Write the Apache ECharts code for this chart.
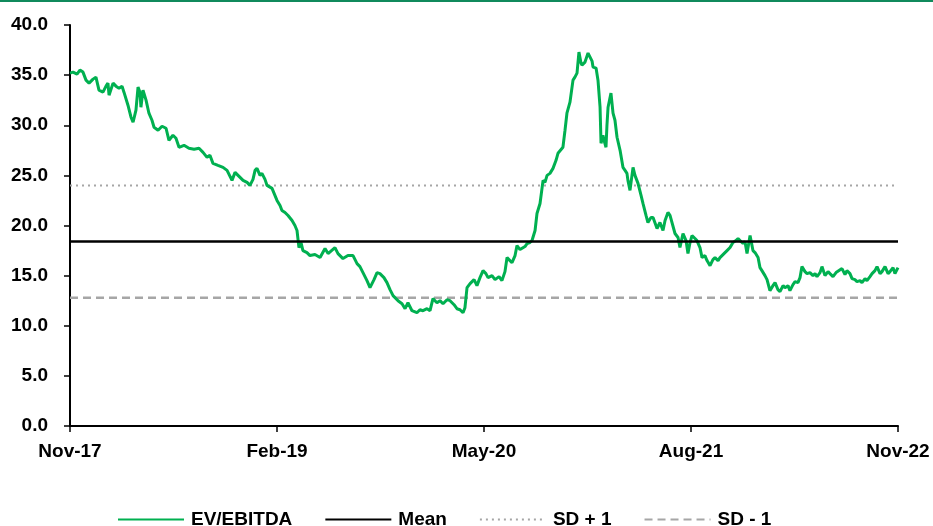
<!DOCTYPE html>
<html>
<head>
<meta charset="utf-8">
<script src="https://cdn.jsdelivr.net/npm/echarts@6/dist/echarts.min.js"></script>
<style>
html,body{margin:0;padding:0;background:#fff;}
#chart{width:933px;height:526px;}
</style>
</head>
<body>
<div id="chart"></div>
<script>
// Months elapsed since Nov-17
var months = [0,0.22,0.51,0.72,0.94,1.16,1.38,1.67,1.88,2.10,2.39,2.61,2.75,2.83,3.12,3.33,3.55,3.77,3.91,4.20,4.42,4.57,4.78,4.93,5.07,5.14,5.29,5.51,5.72,5.94,6.09,6.38,6.67,6.96,7.17,7.46,7.68,7.90,8.26,8.62,8.99,9.35,9.64,9.93,10.14,10.36,10.72,11.09,11.38,11.74,11.96,12.25,12.54,12.83,13.04,13.26,13.41,13.55,13.77,13.91,14.13,14.28,14.64,15.00,15.22,15.36,15.58,15.80,16.09,16.30,16.45,16.59,16.74,16.88,17.17,17.39,17.75,18.12,18.48,18.70,18.84,19.20,19.42,19.78,20.14,20.51,20.80,21.01,21.23,21.52,21.74,22.03,22.25,22.46,22.75,22.97,23.19,23.41,23.77,24.06,24.28,24.49,24.78,25.14,25.36,25.58,25.87,26.09,26.30,26.59,26.81,27.03,27.32,27.54,27.83,28.04,28.26,28.48,28.62,28.77,28.99,29.28,29.49,29.71,29.93,30.14,30.29,30.58,30.80,31.09,31.30,31.52,31.67,31.88,32.03,32.25,32.39,32.61,32.75,32.97,33.12,33.33,33.48,33.70,33.84,34.06,34.28,34.42,34.57,34.78,35.00,35.22,35.36,35.72,35.87,36.01,36.23,36.45,36.59,36.74,36.88,37.03,37.10,37.32,37.46,37.54,37.68,37.83,37.90,38.12,38.26,38.41,38.48,38.62,38.70,38.84,38.91,38.99,39.20,39.35,39.49,39.64,39.86,40.07,40.22,40.36,40.43,40.58,40.80,40.94,41.16,41.38,41.52,41.74,41.88,42.10,42.25,42.54,42.75,42.97,43.12,43.33,43.48,43.62,43.84,44.06,44.20,44.42,44.64,44.78,44.93,45.07,45.29,45.43,45.65,45.80,46.01,46.16,46.38,46.59,46.74,46.96,47.10,47.39,47.61,47.83,48.04,48.26,48.41,48.62,48.77,48.91,49.06,49.28,49.49,49.64,49.86,50.00,50.14,50.36,50.51,50.72,50.94,51.09,51.30,51.45,51.67,51.81,52.03,52.17,52.39,52.54,52.75,52.90,53.04,53.26,53.41,53.62,53.84,53.99,54.13,54.35,54.49,54.71,54.93,55.07,55.29,55.51,55.65,55.94,56.16,56.30,56.52,56.67,56.88,57.03,57.25,57.39,57.61,57.75,57.97,58.12,58.33,58.48,58.70,58.84,59.06,59.28,59.42,59.64,59.78,60.00];

var evEbitda = [35.2,35.3,35.1,35.5,35.3,34.5,34.2,34.6,34.8,33.5,33.3,33.9,34.2,33.0,34.2,33.9,33.7,33.9,33.3,32.0,30.8,30.3,31.5,33.8,33.3,31.8,33.5,32.5,31.2,30.5,29.8,29.5,29.9,29.7,28.5,29.0,28.7,27.8,28.0,27.7,27.6,27.7,27.3,26.8,27.0,26.2,26.0,25.8,25.5,24.5,25.3,24.9,24.5,24.3,24.0,24.6,25.5,25.7,25.0,25.2,24.6,24.0,23.7,22.5,22.0,21.5,21.3,21.0,20.5,20.0,19.5,17.8,18.3,17.5,17.3,17.0,17.1,16.8,17.7,17.2,17.3,17.8,17.2,16.7,17.0,17.0,16.2,15.9,15.3,14.5,13.8,14.6,15.3,15.2,14.8,14.3,13.6,13.0,12.5,12.2,11.7,12.3,11.5,11.3,11.6,11.5,11.7,11.5,12.7,12.3,12.5,12.2,12.6,12.5,12.1,11.7,11.6,11.3,11.8,13.8,14.2,14.6,14.0,14.8,15.5,15.2,14.8,15.0,14.6,14.9,14.5,15.4,16.8,16.5,16.3,17.0,18.0,17.6,17.5,17.9,18.2,18.3,18.5,19.5,21.2,22.2,24.5,24.3,25.0,25.2,25.7,26.5,27.2,27.8,29.5,31.2,32.3,34.5,34.8,35.2,37.3,36.2,36.0,36.3,36.3,37.2,37.2,36.4,35.8,35.7,34.5,31.8,28.2,29.0,28.5,27.8,30.0,31.8,33.2,31.2,30.5,28.8,27.5,25.8,25.5,25.2,24.5,23.5,25.8,25.0,24.2,23.0,22.2,21.0,20.3,20.8,20.8,19.7,20.3,19.5,20.5,21.3,21.0,21.0,19.2,18.8,17.8,19.2,18.5,17.2,18.3,19.0,18.7,18.5,17.8,16.8,17.0,16.5,16.0,16.6,16.8,16.5,16.8,17.2,17.5,17.8,18.3,18.5,18.7,18.4,18.2,18.4,17.2,19.0,17.5,17.3,16.8,15.8,15.5,15.0,14.6,13.5,14.0,14.3,13.6,13.4,14.0,13.8,14.0,13.5,14.1,14.4,14.3,14.8,15.9,15.4,15.2,15.3,15.0,15.2,14.9,15.3,15.9,15.0,15.4,15.2,14.9,15.3,15.4,15.7,15.1,15.5,15.2,14.7,14.6,14.4,14.5,14.3,14.7,14.5,14.9,15.2,15.5,15.9,15.2,15.4,15.9,15.2,15.4,15.8,15.2,15.8];

var meanValue = 18.4;
var sdPlus1 = 24.0;
var sdMinus1 = 12.8;

var xTickLabels = ['Nov-17','Feb-19','May-20','Aug-21','Nov-22'];
var xTickStep = 15;   // months between labels
var xSpan = 60;       // months in total

var seriesNames = ['EV/EBITDA','Mean','SD + 1','SD - 1'];

var lineData = months.map(function(m, i){ return [m, evEbitda[i]]; });
function flat(v){ return [[0, v], [xSpan, v]]; }

var FONT = '"Liberation Sans", Arial, sans-serif';
var chart = echarts.init(document.getElementById('chart'), null, {renderer:'canvas'});
chart.setOption({
  animation: false,
  backgroundColor: '#fff',
  graphic: [{
    type: 'rect',
    shape: {x: 0, y: 0, width: 933, height: 2},
    style: {fill: '#108a5c'}
  }],
  grid: {left: 70, right: 35, top: 25, bottom: 100},
  xAxis: {
    type: 'value', min: 0, max: xSpan, interval: xTickStep,
    axisLine: {lineStyle: {color: '#000', width: 2}},
    axisTick: {show: true, length: 6, lineStyle: {color: '#000', width: 1.5}},
    splitLine: {show: false},
    axisLabel: {
      margin: 16,
      color: '#000', fontFamily: FONT, fontWeight: 'bold', fontSize: 19,
      formatter: function(v){ return xTickLabels[Math.round(v / xTickStep)] || ''; }
    }
  },
  yAxis: {
    type: 'value', min: 0, max: 40, interval: 5,
    axisLine: {show: true, lineStyle: {color: '#000', width: 2}},
    axisTick: {show: true, length: 6, lineStyle: {color: '#000', width: 1.5}},
    splitLine: {show: false},
    axisLabel: {
      margin: 22,
      color: '#000', fontFamily: FONT, fontWeight: 'bold', fontSize: 19,
      formatter: function(v){ return v.toFixed(1); }
    }
  },
  legend: {
    left: 112, top: 505, padding: 5,
    itemWidth: 66, itemHeight: 14, itemGap: 32,
    itemStyle: {opacity: 0},
    textStyle: {color: '#000', fontFamily: FONT, fontWeight: 'bold', fontSize: 19, padding: [0,0,0,2]},
    data: seriesNames
  },
  series: [
    {name: seriesNames[0], type: 'line', data: lineData, showSymbol: false, symbol: 'none',
     lineStyle: {color: '#00b050', width: 3}, itemStyle: {color: '#00b050'}, z: 3},
    {name: seriesNames[1], type: 'line', data: flat(meanValue), symbol: 'none',
     lineStyle: {color: '#000', width: 2.5}, itemStyle: {color: '#000'}, z: 4},
    {name: seriesNames[2], type: 'line', data: flat(sdPlus1), symbol: 'none',
     lineStyle: {color: '#a6a6a6', width: 2, type: [2, 4]}, itemStyle: {color: '#a6a6a6'}, z: 2},
    {name: seriesNames[3], type: 'line', data: flat(sdMinus1), symbol: 'none',
     lineStyle: {color: '#a6a6a6', width: 2.5, type: [8, 5]}, itemStyle: {color: '#a6a6a6'}, z: 2}
  ]
});
</script>
</body>
</html>
